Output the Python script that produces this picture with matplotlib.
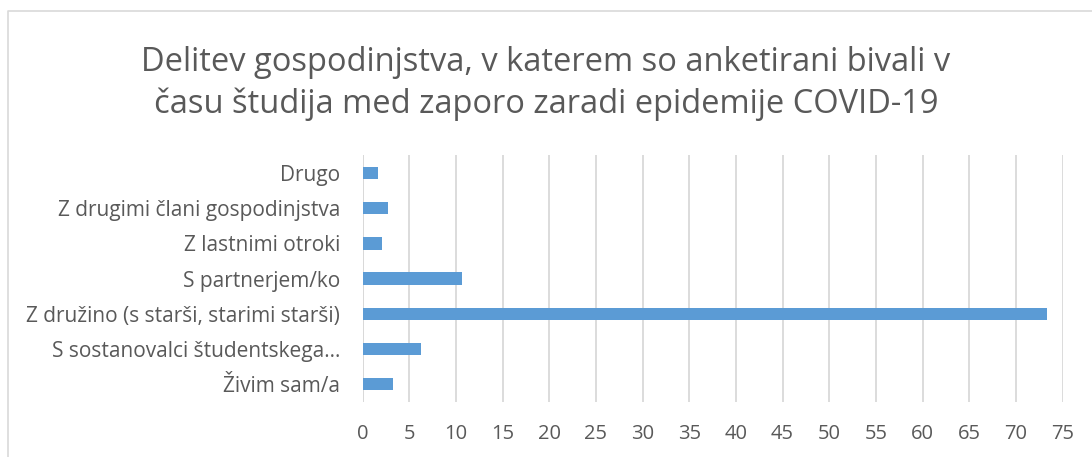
import matplotlib.pyplot as plt
from matplotlib.lines import Line2D

categories = [
    "Živim sam/a",
    "S sostanovalci študentskega…",
    "Z družino (s starši, starimi starši)",
    "S partnerjem/ko",
    "Z lastnimi otroki",
    "Z drugimi člani gospodinjstva",
    "Drugo",
]
values = [3.3, 6.3, 73.3, 10.7, 2.1, 2.7, 1.7]
x_ticks = list(range(0, 80, 5))

title = ("Delitev gospodinjstva, v katerem so anketirani bivali v\n"
         "času študija med zaporo zaradi epidemije COVID-19")

plt.rcParams['font.family'] = ['Open Sans', 'DejaVu Sans']
text_color = "#595959"

fig = plt.figure(figsize=(10.92, 4.57), dpi=100)
ax = fig.add_axes([0.332, 0.121, 0.641, 0.539])

ax.barh(range(len(categories)), values, height=0.35, color="#5b9bd5", zorder=3)
ax.set_xlim(0, 75)
ax.set_ylim(-0.5, len(categories) - 0.5)
ax.set_xticks(x_ticks)
ax.set_yticks(range(len(categories)))
ax.set_yticklabels(categories)

ax.grid(axis='x', color="#d9d9d9", linewidth=1.3, zorder=0)
for s in ax.spines.values():
    s.set_visible(False)
ax.axvline(0, color="#d9d9d9", linewidth=1.3, zorder=1)
ax.tick_params(axis='both', length=0, labelcolor=text_color)
ax.tick_params(axis='y', pad=16, labelsize=15)
ax.tick_params(axis='x', pad=16, labelsize=14.5)

fig.text(0.5, 0.9, title, ha='center', va='top', fontsize=23.5,
         color=text_color, linespacing=1.35)

# chart border
fig.add_artist(Line2D([8 / 1092, 8 / 1092, 1.0], [0.0, 1 - 11 / 457, 1 - 11 / 457],
                      transform=fig.transFigure, color="#d9d9d9", linewidth=1.2))

plt.savefig("out.png", dpi=100)
